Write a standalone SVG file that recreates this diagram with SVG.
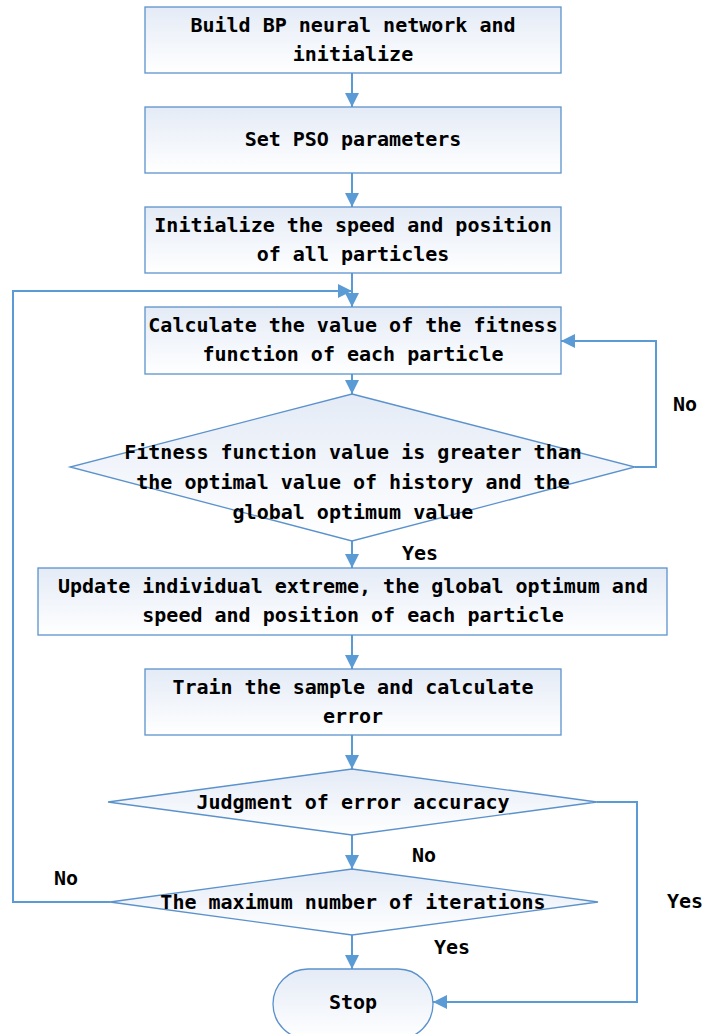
<svg xmlns="http://www.w3.org/2000/svg" width="704" height="1034" viewBox="0 0 704 1034">
<defs>
<linearGradient id="g" x1="0" y1="0" x2="0" y2="1">
<stop offset="0" stop-color="#e4ebf6"/>
<stop offset="1" stop-color="#ffffff"/>
</linearGradient>
<marker id="ah" viewBox="0 0 10 10" refX="10" refY="5" markerWidth="14" markerHeight="14" markerUnits="userSpaceOnUse" orient="auto">
<path d="M0,0 L10,5 L0,10 z" fill="#5b9bd5"/>
</marker>
<style>
.n{fill:url(#g);stroke:#5b92cc;stroke-width:1.3}
.t{font-family:"DejaVu Sans Mono","Liberation Mono",monospace;font-size:20px;font-weight:bold;fill:#000;text-anchor:middle;dominant-baseline:central}
.c{fill:none;stroke:#5b9bd5;stroke-width:2;marker-end:url(#ah)}
.l{font-family:"DejaVu Sans Mono","Liberation Mono",monospace;font-size:20px;font-weight:bold;fill:#000;text-anchor:middle;dominant-baseline:central}
</style>
</defs>
<rect width="704" height="1034" fill="#fff"/>
<g id="connectors">
<line class="c" x1="352" y1="73" x2="352" y2="107"/>
<line class="c" x1="352" y1="173" x2="352" y2="207"/>
<line class="c" x1="352" y1="273" x2="352" y2="307"/>
<polyline class="c" points="110,902 13,902 13,291 352,291"/>
<line class="c" x1="352" y1="374" x2="352" y2="394"/>
<polyline class="c" points="635,467 656,467 656,341 561,341"/>
<line class="c" x1="352" y1="541" x2="352" y2="568"/>
<line class="c" x1="352" y1="635" x2="352" y2="669"/>
<line class="c" x1="352" y1="735" x2="352" y2="769"/>
<polyline class="c" points="597,802 637,802 637,1002 433,1002"/>
<line class="c" x1="352" y1="835" x2="352" y2="869"/>
<line class="c" x1="352" y1="935" x2="352" y2="969"/>
<text class="l" x="685" y="404">No</text>
<text class="l" x="420" y="553">Yes</text>
<text class="l" x="424" y="855">No</text>
<text class="l" x="66" y="878">No</text>
<text class="l" x="452" y="947">Yes</text>
<text class="l" x="685" y="901">Yes</text>
</g>
<g id="n1"><rect class="n" x="145" y="7" width="416" height="66"/>
<text class="t" x="353" y="25">Build BP neural network and</text>
<text class="t" x="353" y="54">initialize</text></g>
<g id="n2"><rect class="n" x="145" y="107" width="416" height="66"/>
<text class="t" x="353" y="139">Set PSO parameters</text></g>
<g id="n3"><rect class="n" x="145" y="207" width="416" height="66"/>
<text class="t" x="353" y="225">Initialize the speed and position</text>
<text class="t" x="353" y="254">of all particles</text></g>
<g id="n4"><rect class="n" x="145" y="307" width="416" height="67"/>
<text class="t" x="353" y="325">Calculate the value of the fitness</text>
<text class="t" x="353" y="354">function of each particle</text></g>
<g id="n5"><polygon class="n" points="352,394 635,467 352,541 70,467"/>
<text class="t" x="353" y="452">Fitness function value is greater than</text>
<text class="t" x="353" y="482">the optimal value of history and the</text>
<text class="t" x="353" y="512">global optimum value</text></g>
<g id="n6"><rect class="n" x="38" y="568" width="629" height="67"/>
<text class="t" x="353" y="586">Update individual extreme, the global optimum and</text>
<text class="t" x="353" y="615">speed and position of each particle</text></g>
<g id="n7"><rect class="n" x="145" y="669" width="416" height="66"/>
<text class="t" x="353" y="687">Train the sample and calculate</text>
<text class="t" x="353" y="716">error</text></g>
<g id="n8"><polygon class="n" points="352,769 597,802 352,835 108,802"/>
<text class="t" x="353" y="802">Judgment of error accuracy</text></g>
<g id="n9"><polygon class="n" points="352,869 598,902 352,935 110,902"/>
<text class="t" x="353" y="902">The maximum number of iterations</text></g>
<g id="n10"><rect class="n" x="273" y="969" width="160" height="70" rx="35" ry="35"/>
<text class="t" x="353" y="1002">Stop</text></g>
</svg>
